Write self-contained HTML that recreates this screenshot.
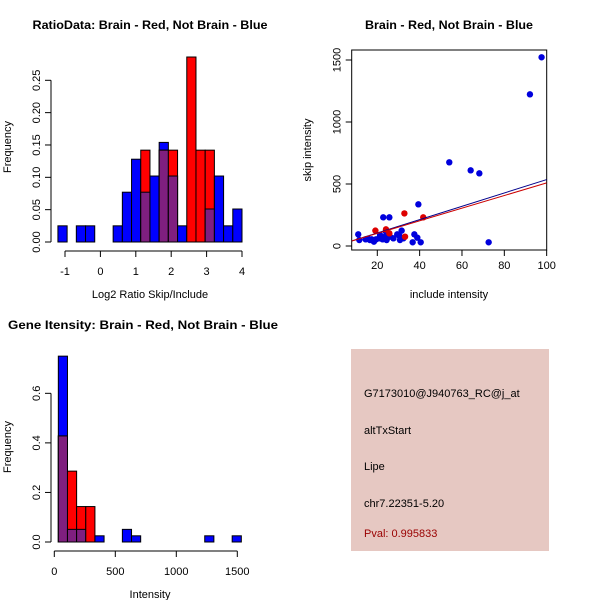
<!DOCTYPE html>
<html><head><meta charset="utf-8"><style>
body{margin:0;background:#fff}
svg{display:block;font-family:"Liberation Sans",Arial,sans-serif}
</style></head><body>
<svg id="c" width="600" height="600" xmlns="http://www.w3.org/2000/svg">
<rect width="600" height="600" fill="#fff"/>
<g id="p1"></g>
<g id="p2"></g>
<g id="p3"></g>
<g id="p4">
<rect x="351" y="349" width="198" height="202" fill="#e6c8c2"/>
<text x="364" y="397" font-size="11">G7173010@J940763_RC@j_at</text>
<text x="364" y="434" font-size="11">altTxStart</text>
<text x="364" y="470" font-size="11">Lipe</text>
<text x="364" y="507" font-size="11">chr7.22351-5.20</text>
<text x="364" y="537" font-size="11" fill="#990000">Pval: 0.995833</text>
</g>
</svg>
<script>
// Plot 1 data
const ratioBinStart = -1.2;
const ratioBinWidth = 0.26;
const ratioBlue = [0.025,0,0.025,0.025,0,0,0.025,0.077,0.128,0.077,0.102,0.154,0.102,0.025,0,0,0.051,0.102,0.025,0.051];
const ratioRed  = [0,0,0,0,0,0,0,0,0,0.142,0,0.142,0.142,0,0.286,0.142,0.142,0,0,0];
const ratioXTicks = [-1,0,1,2,3,4];
const ratioYTicks = [0,0.05,0.10,0.15,0.20,0.25];
const ratioYLabels = ["0.00","0.05","0.10","0.15","0.20","0.25"];
// Plot 2 data
const blueX = [11.0,11.5,14.5,15.7,16.5,17.3,18.4,19.4,21.3,22.8,25.7,22.5,23.6,24.4,24.7,26.0,27.6,29.4,30.7,31.5,32.3,36.7,37.5,38.9,39.4,40.5,54.0,64.1,68.2,72.6,92.1,97.6,20.9,24.1,30.4];
const blueY = [94,48,54,59,48,54,35,54,89,231,231,54,75,48,97,75,62,94,48,124,62,30,94,67,336,30,675,610,586,30,1223,1522,62,116,83];
const redX = [19.1,24.1,25.7,32.8,41.7,33.1];
const redY = [124,134,102,263,231,75];
const blueFit = [-2.5,5.38]; // intercept, slope
const redFit = [-0.2,5.09];
const scatXTicks = [20,40,60,80,100];
const scatYTicks = [0,500,1000,1500];
// Plot 3 data
const intBinStart = 33;
const intBinWidth = 75;
const intBlue = [0.75,0.051,0.051,0,0.025,0,0,0.051,0.025,0,0,0,0,0,0,0,0.025,0,0,0.025];
const intRed  = [0.428,0.286,0.143,0.143,0,0,0,0,0,0,0,0,0,0,0,0,0,0,0,0];
const intXTicks = [0,500,1000,1500];
const intYTicks = [0,0.2,0.4,0.6];
const intYLabels = ["0.0","0.2","0.4","0.6"];

const NS="http://www.w3.org/2000/svg";
function mk(parent,tag,attrs,txt){const e=document.createElementNS(NS,tag);for(const k in attrs)e.setAttribute(k,attrs[k]);if(txt!==undefined)e.textContent=txt;parent.appendChild(e);return e;}

function histogram(g,o){
  const sx=v=>o.x0+(v-o.vx0)*o.kx, sy=v=>o.y0-v*o.ky;
  for(let i=0;i<o.blue.length;i++){
    const a=o.start+i*o.w,b=a+o.w;
    const layers=[[o.blue[i],'#0000ff','blue'],[o.red[i],'#ff0000','red'],[Math.min(o.blue[i],o.red[i]),'#7f1f7f','overlap']];
    for(const [v,col,nm] of layers){
      if(v<=0)continue;
      const r=mk(g,'rect',{x:sx(a),y:sy(v),width:sx(b)-sx(a),height:sy(0)-sy(v),fill:col,stroke:'#000','stroke-width':1});
      
      
    }
  }
  const yt=o.yTicks;
  const ya=mk(g,'line',{x1:o.yax,x2:o.yax,y1:sy(yt[0]),y2:sy(yt[yt.length-1]),stroke:'#000'});
  
  
  yt.forEach((t,i)=>{
    mk(g,'line',{x1:o.yax-6,x2:o.yax,y1:sy(t),y2:sy(t),stroke:'#000'});
    const tx=mk(g,'text',{x:o.yax-11,y:sy(t),'font-size':11,'text-anchor':'middle',transform:`rotate(-90 ${o.yax-11} ${sy(t)})`},o.yLabels[i]);
    
    
  });
  const xt=o.xTicks;
  const xa=mk(g,'line',{x1:sx(xt[0]),x2:sx(xt[xt.length-1]),y1:o.xay,y2:o.xay,stroke:'#000'});
  
  
  xt.forEach(t=>{
    mk(g,'line',{x1:sx(t),x2:sx(t),y1:o.xay,y2:o.xay+6,stroke:'#000'});
    const tx=mk(g,'text',{x:sx(t),y:o.xay+24,'font-size':11,'text-anchor':'middle'},String(t));
    
    
  });
}

const g1=document.getElementById('p1');
histogram(g1,{x0:65,vx0:-1,kx:35.4,y0:242,ky:646.8,start:ratioBinStart,w:ratioBinWidth,blue:ratioBlue,red:ratioRed,yTicks:ratioYTicks,yLabels:ratioYLabels,xTicks:ratioXTicks,yax:51,xay:251});
let t;
t=mk(g1,'text',{x:150,y:29,'font-size':12,'font-weight':'bold','text-anchor':'middle',textLength:235,lengthAdjust:'spacingAndGlyphs'},'RatioData: Brain - Red, Not Brain - Blue');
 
t=mk(g1,'text',{x:150,y:298,'font-size':11,'text-anchor':'middle'},'Log2 Ratio Skip/Include');
 
t=mk(g1,'text',{x:11,y:147,'font-size':11,'text-anchor':'middle',transform:'rotate(-90 11 147)'},'Frequency');
 

const g3=document.getElementById('p3');
histogram(g3,{x0:54.3,vx0:0,kx:0.122,y0:542,ky:247.8,start:intBinStart,w:intBinWidth,blue:intBlue,red:intRed,yTicks:intYTicks,yLabels:intYLabels,xTicks:intXTicks,yax:51,xay:551});
t=mk(g3,'text',{x:143,y:329,'font-size':12,'font-weight':'bold','text-anchor':'middle',textLength:270,lengthAdjust:'spacingAndGlyphs'},'Gene Itensity: Brain - Red, Not Brain - Blue');
 
t=mk(g3,'text',{x:150,y:598,'font-size':11,'text-anchor':'middle'},'Intensity');
 
t=mk(g3,'text',{x:11,y:447,'font-size':11,'text-anchor':'middle',transform:'rotate(-90 11 447)'},'Frequency');
 

const g2=document.getElementById('p2');
const L=351.7,R=546.7,T=50,B=250;
const sx2=v=>377.3+(v-20)*2.117, sy2=v=>246-v*0.124;
const vxmin=20-(377.3-L)/2.117, vxmax=20+(R-377.3)/2.117;
const defs=mk(g2,'defs',{});
const cp=mk(defs,'clipPath',{id:'clip2'});
mk(cp,'rect',{x:L,y:T,width:R-L,height:B-T});
const box=mk(g2,'rect',{x:L,y:T,width:R-L,height:B-T,fill:'none',stroke:'#000'});
 
blueX.forEach((x,i)=>{const c=mk(g2,'circle',{cx:sx2(x),cy:sy2(blueY[i]),r:3.2,fill:'#0000dd'});
   });
redX.forEach((x,i)=>{const c=mk(g2,'circle',{cx:sx2(x),cy:sy2(redY[i]),r:3.2,fill:'#dd0000'});
   });
[[blueFit,'#00008b','fit-line-blue'],[redFit,'#cc0000','fit-line-red']].forEach(([f,col,nm])=>{
  const ln=mk(g2,'line',{x1:sx2(vxmin),y1:sy2(f[0]+f[1]*vxmin),x2:sx2(vxmax),y2:sy2(f[0]+f[1]*vxmax),stroke:col,'clip-path':'url(#clip2)'});
   
});
scatXTicks.forEach(v=>{mk(g2,'line',{x1:sx2(v),x2:sx2(v),y1:B,y2:B+6,stroke:'#000'});
  const tx=mk(g2,'text',{x:sx2(v),y:B+19,'font-size':11,'text-anchor':'middle'},String(v));
   });
scatYTicks.forEach(v=>{mk(g2,'line',{x1:L-6,x2:L,y1:sy2(v),y2:sy2(v),stroke:'#000'});
  const tx=mk(g2,'text',{x:L-11,y:sy2(v),'font-size':11,'text-anchor':'middle',transform:`rotate(-90 ${L-11} ${sy2(v)})`},String(v));
   });
t=mk(g2,'text',{x:449,y:29,'font-size':12,'font-weight':'bold','text-anchor':'middle',textLength:168,lengthAdjust:'spacingAndGlyphs'},'Brain - Red, Not Brain - Blue');
 
t=mk(g2,'text',{x:449,y:298,'font-size':11,'text-anchor':'middle'},'include intensity');
 
t=mk(g2,'text',{x:311,y:150,'font-size':11,'text-anchor':'middle',transform:'rotate(-90 311 150)'},'skip intensity');
 
</script>
</body></html>
